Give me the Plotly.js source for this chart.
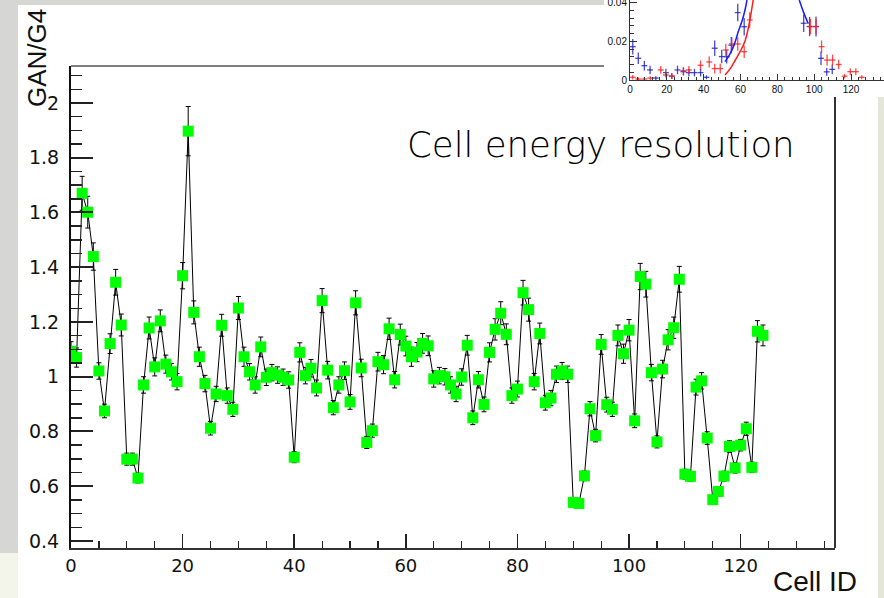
<!DOCTYPE html>
<html>
<head>
<meta charset="utf-8">
<script src="https://cdn.plot.ly/plotly-3.0.1.min.js"></script>
<style>html,body{margin:0;padding:0;background:#d6d6d4;}#chart{width:884px;height:598px;}</style>
</head>
<body>
<div id="chart"></div>
<script>
// ---- main chart data ----
const cellIds = Array.from({length:125}, (_, i) => i);
const ratio = [
1.093,1.070,1.670,1.601,1.439,1.021,0.875,1.121,1.345,1.189,
0.699,0.699,0.630,0.970,1.178,1.036,1.204,1.046,1.018,0.982,
1.369,1.897,1.235,1.073,0.975,0.812,0.937,1.188,0.931,0.881,
1.251,1.073,1.018,0.970,1.109,0.998,1.015,1.006,0.998,0.988,
0.706,1.089,1.004,1.031,0.959,1.278,1.024,0.887,0.970,1.022,
0.908,1.270,1.032,0.760,0.803,1.055,1.044,1.175,0.989,1.154,
1.112,1.073,1.090,1.122,1.113,0.992,1.004,1.000,0.970,0.937,
0.999,1.115,0.850,0.989,0.899,1.089,1.173,1.232,1.155,0.931,
0.955,1.307,1.245,0.982,1.158,0.905,0.922,1.009,1.021,1.009,
0.541,0.537,0.638,0.883,0.785,1.118,0.898,0.881,1.151,1.084,
1.170,0.839,1.366,1.338,1.015,0.762,1.028,1.135,1.179,1.356,
0.644,0.636,0.962,0.985,0.776,0.551,0.581,0.637,0.745,0.667,
0.750,0.810,0.669,1.166,1.151];
const ratioErr = [
0.035,0.035,0.062,0.058,0.050,0.030,0.025,0.036,0.047,0.040,
0.022,0.022,0.018,0.030,0.040,0.033,0.040,0.033,0.030,0.030,
0.048,0.090,0.042,0.035,0.030,0.025,0.028,0.040,0.028,0.026,
0.042,0.035,0.030,0.030,0.036,0.030,0.030,0.030,0.030,0.030,
0.020,0.035,0.030,0.032,0.029,0.044,0.032,0.026,0.030,0.032,
0.027,0.044,0.032,0.022,0.024,0.034,0.033,0.039,0.030,0.038,
0.036,0.035,0.035,0.036,0.036,0.030,0.030,0.030,0.030,0.028,
0.030,0.036,0.025,0.030,0.027,0.035,0.039,0.042,0.038,0.028,
0.029,0.045,0.042,0.030,0.038,0.027,0.028,0.030,0.031,0.030,
0.015,0.015,0.018,0.026,0.023,0.036,0.027,0.026,0.038,0.035,
0.039,0.025,0.048,0.047,0.030,0.022,0.032,0.037,0.039,0.047,
0.018,0.018,0.029,0.030,0.023,0.015,0.016,0.018,0.021,0.019,
0.021,0.024,0.019,0.039,0.038];

// ---- inset data ----
const blueX = [1.5,4.5,7.8,10.9,14,19.5,22.7,25.8,29,32,35,38.3,41.5,46,49.8,52.5,55,58.5,62,94.3,97.5,101,103.7,106.8,109.8];
const blueY = [0.0172,0.0112,0.0074,0.0052,0.0010,0.0038,0.0020,0.0052,0.0043,0.0038,0.0038,0.0038,0.0014,0.0164,0.0121,0.0120,0.0180,0.0348,0.0275,0.0293,0.0276,0.0276,0.0112,0.0042,0.0055];
const blueErr = [0.0040,0.0030,0.0025,0.0022,0.0010,0.0020,0.0015,0.0022,0.0020,0.0020,0.0020,0.0020,0.0010,0.0040,0.0035,0.0035,0.0042,0.0045,0.0045,0.0045,0.0050,0.0052,0.0035,0.0020,0.0025];
const redX = [1.5,4.5,7.8,11,16.7,19.5,22.7,29,32,38.3,43,46,49,52,55.3,58.5,62,65,98,101,104,107,110,113.3,116.5,119.6,122.6,125.8];
const redY = [0.0014,0.0005,0.0005,0.0010,0.0052,0.0026,0.0020,0.0048,0.0052,0.0076,0.0093,0.0059,0.0059,0.0155,0.0186,0.0186,0.0146,0.0310,0.0276,0.0276,0.0172,0.0103,0.0103,0.0080,0.0020,0.0043,0.0043,0.0014];
const redErr = [0.0012,0.0008,0.0008,0.0010,0.0020,0.0015,0.0015,0.0020,0.0020,0.0025,0.0028,0.0025,0.0025,0.0032,0.0035,0.0035,0.0032,0.0040,0.0040,0.0040,0.0032,0.0028,0.0028,0.0025,0.0012,0.0018,0.0018,0.0010];
const blueFitX = [51.6,54,56.5,58.8,61,62.4,63.5];
const blueFitY = [0.0095,0.013,0.018,0.025,0.031,0.036,0.0413];
const blueFit2X = [91.9,94.1,96.8];
const blueFit2Y = [0.0413,0.0353,0.029];
const redFitX = [51.6,54.5,57,60,62.4,64.5,66.9];
const redFitY = [0.0026,0.006,0.010,0.015,0.020,0.028,0.0413];

const W = 884, H = 598;
const px = v => v / W;
const py = v => 1 - v / H;

const traces = [
  {
    x: cellIds, y: ratio, type: 'scatter', mode: 'lines+markers',
    xaxis: 'x', yaxis: 'y',
    line: {color: '#000', width: 1},
    marker: {symbol: 'square', size: 11, color: '#00ff00'},
    error_y: {type: 'data', array: ratioErr, visible: true, color: '#000', thickness: 1, width: 2.5},
    hoverinfo: 'x+y'
  },
  {
    x: blueX, y: blueY, type: 'scatter', mode: 'markers', xaxis: 'x2', yaxis: 'y2',
    marker: {size: 1, color: 'rgba(40,40,200,0.9)'},
    error_y: {type: 'data', array: blueErr, visible: true, color: 'rgba(40,40,200,0.85)', thickness: 1.3, width: 0},
    error_x: {type: 'constant', value: 1.6, visible: true, color: 'rgba(40,40,200,0.85)', thickness: 1.3, width: 0}
  },
  {
    x: redX, y: redY, type: 'scatter', mode: 'markers', xaxis: 'x2', yaxis: 'y2',
    marker: {size: 1, color: 'rgba(255,30,30,0.9)'},
    error_y: {type: 'data', array: redErr, visible: true, color: 'rgba(255,30,30,0.8)', thickness: 1.3, width: 0},
    error_x: {type: 'constant', value: 1.6, visible: true, color: 'rgba(255,30,30,0.8)', thickness: 1.3, width: 0}
  },
  {x: blueFitX, y: blueFitY, type: 'scatter', mode: 'lines', xaxis: 'x2', yaxis: 'y2', line: {color: '#1a1aff', width: 1.5, shape: 'spline'}},
  {x: blueFit2X, y: blueFit2Y, type: 'scatter', mode: 'lines', xaxis: 'x2', yaxis: 'y2', line: {color: '#1a1aff', width: 1.5, shape: 'spline'}},
  {x: redFitX, y: redFitY, type: 'scatter', mode: 'lines', xaxis: 'x2', yaxis: 'y2', line: {color: '#ff1a1a', width: 1.5, shape: 'spline'}}
];

const layout = {
  width: W, height: H,
  margin: {l: 0, r: 0, t: 0, b: 0},
  paper_bgcolor: '#d6d6d4',
  plot_bgcolor: 'rgba(0,0,0,0)',
  showlegend: false,
  font: {family: 'DejaVu Sans, sans-serif', color: '#111'},
  xaxis: {
    domain: [px(71), px(835)], range: [0, 136.9], anchor: 'y',
    showgrid: false, zeroline: false, showline: true, linecolor: '#333', linewidth: 2, mirror: false,
    ticks: 'inside', ticklen: 14, tickwidth: 1.5, tickcolor: '#222', dtick: 20, tick0: 0,
    minor: {ticks: 'inside', ticklen: 7, tickwidth: 1.2, tickcolor: '#222', dtick: 5, tick0: 0},
    tickfont: {family: 'DejaVu Sans, sans-serif', size: 18, color: '#111'}
  },
  yaxis: {
    domain: [py(548), py(66)], range: [0.3744, 2.135], anchor: 'x',
    showgrid: false, zeroline: false, showline: true, linecolor: '#111', linewidth: 2, mirror: false,
    ticks: 'inside', ticklen: 22, tickwidth: 2, tickcolor: '#222', dtick: 0.2, tick0: 0,
    minor: {ticks: 'inside', ticklen: 11, tickwidth: 1.5, tickcolor: '#222', dtick: 0.05, tick0: 0},
    tickfont: {family: 'DejaVu Sans, sans-serif', size: 19, color: '#111'},
    ticklabelstandoff: 6
  },
  xaxis2: {
    domain: [px(630), 1], range: [0, 137.9], anchor: 'y2',
    showgrid: false, zeroline: false, showline: true, linecolor: '#333', linewidth: 1,
    ticks: 'inside', ticklen: 6, tickwidth: 1, tickcolor: '#333', dtick: 20, tick0: 0,
    minor: {ticks: 'inside', ticklen: 3, tickwidth: 1, tickcolor: '#333', dtick: 4, tick0: 0},
    tickfont: {family: 'Liberation Sans, Arial, sans-serif', size: 10, color: '#111'}
  },
  yaxis2: {
    domain: [py(80), 1], range: [0, 0.0413], anchor: 'x2',
    showgrid: false, zeroline: false, showline: true, linecolor: '#333', linewidth: 1,
    ticks: 'inside', ticklen: 7, tickwidth: 1, tickcolor: '#333', dtick: 0.02, tick0: 0,
    minor: {ticks: 'inside', ticklen: 4, tickwidth: 1, tickcolor: '#333', dtick: 0.004, tick0: 0},
    tickfont: {family: 'Liberation Sans, Arial, sans-serif', size: 10, color: '#111'},
    ticklabeloverflow: 'allow'
  },
  shapes: [
    {type: 'rect', xref: 'paper', yref: 'paper', x0: px(18), x1: px(878), y0: 0, y1: py(5), fillcolor: '#ffffff', line: {width: 0}, layer: 'below'},
    {type: 'rect', xref: 'paper', yref: 'paper', x0: 0, x1: px(18), y0: 0, y1: py(553), fillcolor: '#f3f4ea', line: {width: 0}, layer: 'below'},
    {type: 'rect', xref: 'paper', yref: 'paper', x0: px(878), x1: 1, y0: 0, y1: py(5), fillcolor: '#e4e6d8', line: {width: 0}, layer: 'below'},
    {type: 'line', xref: 'paper', yref: 'paper', x0: px(71), x1: px(835), y0: py(66), y1: py(66), line: {color: '#555', width: 1.5}, layer: 'below'},
    {type: 'line', xref: 'paper', yref: 'paper', x0: px(835), x1: px(835), y0: py(66), y1: py(548), line: {color: '#333', width: 2}, layer: 'below'},
    {type: 'rect', xref: 'paper', yref: 'paper', x0: px(604), x1: 1, y0: py(97), y1: 1, fillcolor: '#ffffff', line: {width: 0}, layer: 'below'}
  ],
  annotations: [
    {text: 'Cell energy resolution', xref: 'paper', yref: 'paper', x: px(601), y: py(145), xanchor: 'center', yanchor: 'middle', showarrow: false,
     font: {family: 'DejaVu Sans, sans-serif', size: 35.5, weight: 300, color: '#000'}},
    {text: 'Cell ID', xref: 'paper', yref: 'paper', x: px(859), y: py(581), xanchor: 'right', yanchor: 'middle', showarrow: false,
     font: {family: 'Liberation Sans, Arial, sans-serif', size: 28, color: '#111'}},
    {text: 'GAN/G4', xref: 'paper', yref: 'paper', x: px(37), y: py(58), xanchor: 'center', yanchor: 'middle', showarrow: false, textangle: -90,
     font: {family: 'Liberation Sans, Arial, sans-serif', size: 26, color: '#111'}}
  ]
};

Plotly.newPlot('chart', traces, layout, {displayModeBar: false, staticPlot: true});
</script>
</body>
</html>
